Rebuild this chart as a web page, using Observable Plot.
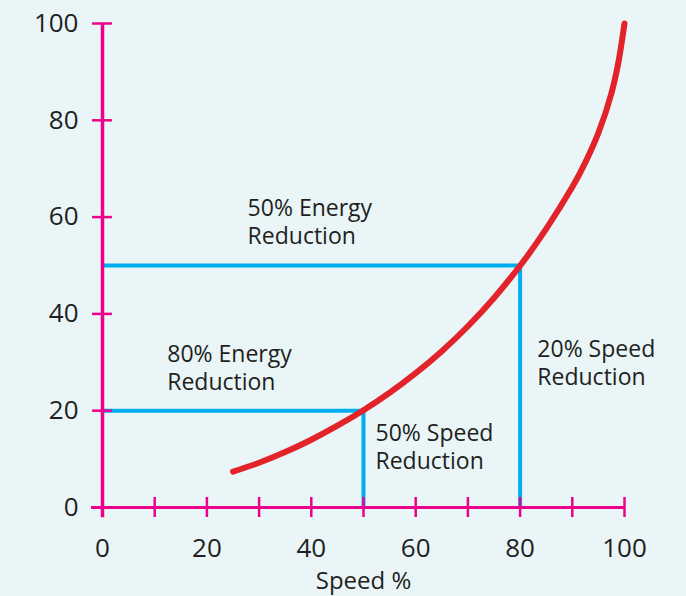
<!DOCTYPE html>
<html><head><meta charset="utf-8">
<script src="https://cdn.jsdelivr.net/npm/d3@7"></script>
<script src="https://cdn.jsdelivr.net/npm/@observablehq/plot@0.6"></script>
<style>html,body{margin:0;padding:0;background:#e9f5f7;}</style>
</head><body><div id="chart"></div>
<script>
const speed  = [25, 30, 35, 40, 45, 50, 55, 60, 65, 70, 75, 80, 85, 90, 92.5, 95, 97.5, 99, 100];
const energy = [7.4, 9.25, 11.45, 14.0, 16.9, 20.1, 23.7, 27.75, 32.3, 37.45, 43.3, 49.95, 57.55, 66.2, 71.3, 77.4, 85.6, 93.0, 100];
const xTicks = [0, 10, 20, 30, 40, 50, 60, 70, 80, 90, 100];
const xTickLabels = [0, 20, 40, 60, 80, 100];
const yTicks = [0, 20, 40, 60, 80, 100];
const guideSpeed = [50, 80];
const guideEnergy = [20, 50];
const noteText = ["50% Energy\nReduction", "80% Energy\nReduction", "50% Speed\nReduction", "20% Speed\nReduction"];
const noteX = [27.8, 12.4, 52.3, 83.3];
const noteY = [64.2, 34.1, 17.7, 35.1];
const xLabel = "Speed %";

const curve = speed.map((s, i) => ({speed: s, energy: energy[i]}));
const guides = guideSpeed.map((s, i) => ({speed: s, energy: guideEnergy[i]}));
const notes = noteText.map((t, i) => ({text: t, x: noteX[i], y: noteY[i]}));

const PINK = "#ec008c", BLUE = "#00aeef", RED = "#e2232a", INK = "#231f20";

const chart = Plot.plot({
  width: 686, height: 596,
  marginLeft: 102, marginRight: 62, marginTop: 23, marginBottom: 89,
  x: {domain: [0, 100]},
  y: {domain: [0, 100]},
  style: {background: "transparent", fontFamily: "Open Sans", color: INK},
  marks: [
    Plot.ruleY(guides, {y: "energy", x1: 0, x2: "speed", stroke: BLUE, strokeWidth: 4}),
    Plot.ruleX(guides, {x: "speed", y1: 0, y2: "energy", stroke: BLUE, strokeWidth: 4}),
    Plot.line(curve, {x: "speed", y: "energy", curve: "natural", stroke: RED, strokeWidth: 6, strokeLinecap: "round"}),
    Plot.ruleY([0], {x1: -2.1, x2: 100, stroke: PINK, strokeWidth: 3}),
    Plot.ruleX([0], {y1: -2.1, y2: 100, stroke: PINK, strokeWidth: 3.5}),
    Plot.ruleX(xTicks, {x: d => d, y1: -2.07, y2: 2.07, stroke: PINK, strokeWidth: 2.5}),
    Plot.ruleY(yTicks, {y: d => d, x1: -1.9, x2: 1.9, stroke: PINK, strokeWidth: 2.5}),
    Plot.axisX(xTickLabels, {tickSize: 0, tickPadding: 31, fontSize: 26, label: null}),
    Plot.axisY(yTicks, {tickSize: 0, tickPadding: 24, fontSize: 26, label: null}),
    Plot.text(notes, {x: "x", y: "y", text: "text", textAnchor: "start", lineAnchor: "top", lineHeight: 1.2, fontSize: 23, fill: INK}),
    Plot.text([xLabel], {frameAnchor: "bottom", dy: 81, fontSize: 24, fill: INK})
  ]
});
document.getElementById("chart").appendChild(chart);
</script>
</body></html>
